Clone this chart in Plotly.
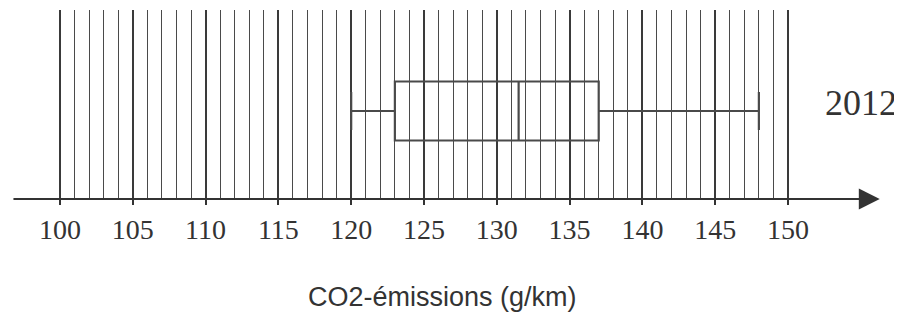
import plotly.graph_objects as go

# ---- data ----
year_label = "2012"
box_min = 120
box_q1 = 123
box_median = 131.5
box_q3 = 137
box_max = 148
major_ticks = [100, 105, 110, 115, 120, 125, 130, 135, 140, 145, 150]
minor_ticks = list(range(100, 151))
x_title = "CO2-émissions (g/km)"

# page is rendered with an 8px body margin, so the figure is 8px smaller
OFF = 8
W, H = 902 - OFF, 315 - OFF
PLOT_TOP, AXIS_Y = 10, 199  # page pixels


def px_to_paper(px, py):
    return (px - OFF) / W, (AXIS_Y - py) / (AXIS_Y - PLOT_TOP)


fig = go.Figure()
fig.add_trace(go.Box(
    y=[0], q1=[box_q1], median=[box_median], q3=[box_q3],
    lowerfence=[box_min], upperfence=[box_max],
    orientation="h", width=0.59, whiskerwidth=0.64,
    fillcolor="rgba(0,0,0,0)", line=dict(color="#4a4a4a", width=2.2),
    boxpoints=False, showlegend=False, hoverinfo="skip",
))

# axis arrow
fig.add_annotation(x=156.3, y=-0.88, ax=96.7, ay=-0.88, xref="x", yref="y",
                   axref="x", ayref="y", showarrow=True, text="",
                   arrowhead=2, arrowsize=1.9, arrowwidth=2.2, arrowcolor="#333333")

px, py = px_to_paper(861, 103)
fig.add_annotation(x=px, y=py, xref="paper", yref="paper", text=year_label,
                   showarrow=False, xanchor="center", yanchor="middle",
                   font=dict(family="Liberation Serif", size=36, color="#333333"))
px, py = px_to_paper(442, 297)
fig.add_annotation(x=px, y=py, xref="paper", yref="paper", text=x_title,
                   showarrow=False, xanchor="center", yanchor="middle",
                   font=dict(family="Liberation Sans", size=27, color="#333333"))

fig.update_layout(
    width=W, height=H,
    margin=dict(l=0, r=0, t=PLOT_TOP - OFF, b=H - (AXIS_Y - OFF), autoexpand=False),
    plot_bgcolor="white", paper_bgcolor="white",
    xaxis=dict(
        range=[96.429, 157.83],
        tickmode="array", tickvals=major_ticks,
        ticks="outside", ticklen=5, tickwidth=1.5, tickcolor="#333333",
        showgrid=True, gridcolor="#3a3a3a", gridwidth=1.5,
        minor=dict(tickmode="array", tickvals=minor_ticks, showgrid=True,
                   gridcolor="#4a4a4a", gridwidth=1.3, ticks=""),
        showline=False, zeroline=False,
        tickfont=dict(family="Liberation Serif", size=28, color="#333333"),
        ticklabelstandoff=0,
    ),
    yaxis=dict(range=[-0.88, 1.01], visible=False, showgrid=False, zeroline=False),
)

fig.write_html("out.html")
